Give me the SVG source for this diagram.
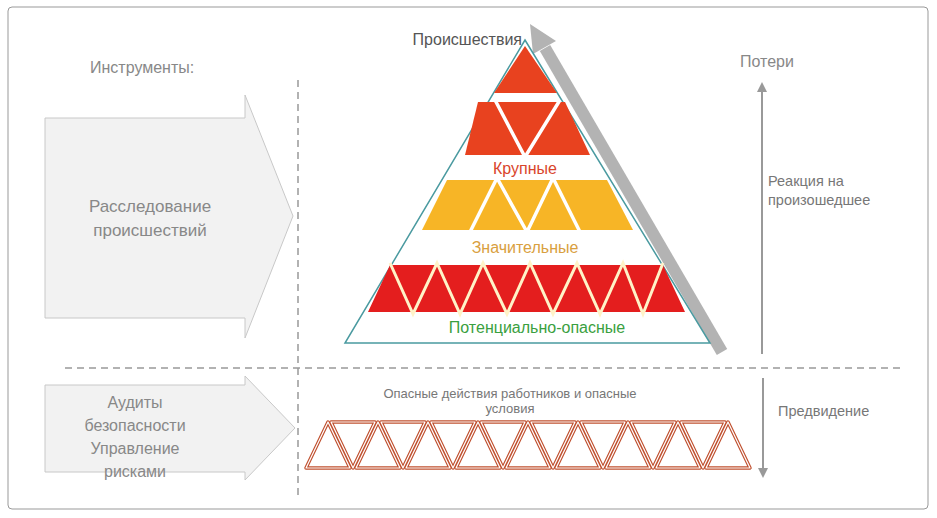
<svg xmlns="http://www.w3.org/2000/svg" width="937" height="518" viewBox="0 0 937 518">
<defs>
<marker id="ah" markerWidth="10" markerHeight="10" refX="8" refY="5" orient="auto" markerUnits="userSpaceOnUse"><path d="M0,0 L10,5 L0,10 z" fill="#999"/></marker>
</defs>
<style>
text{font-family:"Liberation Sans",Arial,sans-serif}
.g{fill:#888;font-size:16px}
.dash{stroke:#999;stroke-width:1.5;stroke-dasharray:7,5;fill:none}
.bigarrow{fill:#f2f2f2;stroke:#c8c8c8;stroke-width:1}
.zz{fill:none;stroke:#fff;stroke-width:3.5}
.bt{fill:#fff;stroke:#c0502f;stroke-width:3.5;stroke-linejoin:round}
.bti{fill:none;stroke:#fff;stroke-width:1.2;stroke-linejoin:round}
</style>
<rect x="0" y="0" width="937" height="518" fill="#fff"/>
<rect x="8" y="7" width="920" height="502" rx="4" fill="none" stroke="#999" stroke-width="1"/>
<g id="tools">
<text x="90" y="73" class="g">Инструменты:</text>
</g>
<g id="investigation">
<polygon class="bigarrow" points="45,118 245,118 245,95 293,216 245,338 245,318 45,318"/>
<text x="150" y="212" class="g" text-anchor="middle" style="font-size:17px">Расследование</text>
<text x="150" y="236" class="g" text-anchor="middle" style="font-size:17px">происшествий</text>
</g>
<g id="audits">
<polygon class="bigarrow" points="45,385 245,385 245,376 295,428 245,480 245,472 45,472"/>
<text x="135" y="408" class="g" text-anchor="middle">Аудиты</text>
<text x="135" y="431" class="g" text-anchor="middle">безопасности</text>
<text x="135" y="454" class="g" text-anchor="middle">Управление</text>
<text x="135" y="477" class="g" text-anchor="middle">рисками</text>
</g>
<g id="connectors">
<line class="dash" x1="298" y1="80" x2="298" y2="497"/>
<line class="dash" x1="65" y1="368" x2="905" y2="368"/>
<line x1="762" y1="354" x2="762" y2="84" stroke="#999" stroke-width="2" marker-end="url(#ah)"/>
<line x1="763" y1="378" x2="763" y2="476" stroke="#999" stroke-width="2" marker-end="url(#ah)"/>
<line x1="722" y1="352" x2="545" y2="48" stroke="#b3b3b3" stroke-width="12"/>
<polygon points="556,41 533,54 530,24" fill="#b3b3b3"/>
</g>
<g id="pyramid">
<polygon points="525,40 710,343 345,343" fill="#fff" stroke="#4a9aa0" stroke-width="1.5"/>
<polygon points="525,46 557,93 494,93" fill="#e8421f"/>
<polygon points="478,102 565,102 590,155 465,155" fill="#e8421f"/>
<polyline class="zz" points="495,100 525,157 560,100"/>
<polygon points="447,180 607,180 633,230 422,230" fill="#f7b526"/>
<polyline class="zz" points="470,232 497,178 527,232 553,178 580,232"/>
<polygon points="390,265 663,265 685,312 368,312" fill="#e41e1e"/>
<polyline class="zz" style="stroke:#fff3c8;stroke-width:3" points="390,263 413,314 437,263 460,314 483,263 507,314 530,263 553,314 577,263 600,314 623,263 643,314 663,263"/>
</g>
<g id="labels">
<text x="522" y="45" text-anchor="end" style="fill:#555;font-size:16px">Происшествия</text>
<text x="525" y="174" text-anchor="middle" style="fill:#d9452b;font-size:16px">Крупные</text>
<text x="525" y="253" text-anchor="middle" style="fill:#d9a040;font-size:16px">Значительные</text>
<text x="537" y="333" text-anchor="middle" style="fill:#3aa040;font-size:16px">Потенциально-опасные</text>
<text x="740" y="67" class="g">Потери</text>
<text x="768" y="186" style="fill:#777;font-size:14.5px">Реакция на</text>
<text x="768" y="205" style="fill:#777;font-size:14.5px">произошедшее</text>
<text x="778" y="416" style="fill:#777;font-size:14.5px">Предвидение</text>
<text x="510" y="398" text-anchor="middle" style="fill:#777;font-size:13px">Опасные действия работников и опасные</text>
<text x="510" y="413" text-anchor="middle" style="fill:#777;font-size:13px">условия</text>
</g>
<g id="hazards">
<g class="bt">
<polygon points="306,468 328,422 350,468"/><polygon points="331,422 375,422 353,468"/>
<polygon points="356,468 378,422 400,468"/><polygon points="381,422 425,422 403,468"/>
<polygon points="406,468 428,422 450,468"/><polygon points="431,422 475,422 453,468"/>
<polygon points="456,468 478,422 500,468"/><polygon points="481,422 525,422 503,468"/>
<polygon points="506,468 528,422 550,468"/><polygon points="531,422 575,422 553,468"/>
<polygon points="556,468 578,422 600,468"/><polygon points="581,422 625,422 603,468"/>
<polygon points="606,468 628,422 650,468"/><polygon points="631,422 675,422 653,468"/>
<polygon points="656,468 678,422 700,468"/><polygon points="681,422 725,422 703,468"/>
<polygon points="706,468 728,422 750,468"/>
</g>
<g class="bti">
<polygon points="306,468 328,422 350,468"/><polygon points="331,422 375,422 353,468"/>
<polygon points="356,468 378,422 400,468"/><polygon points="381,422 425,422 403,468"/>
<polygon points="406,468 428,422 450,468"/><polygon points="431,422 475,422 453,468"/>
<polygon points="456,468 478,422 500,468"/><polygon points="481,422 525,422 503,468"/>
<polygon points="506,468 528,422 550,468"/><polygon points="531,422 575,422 553,468"/>
<polygon points="556,468 578,422 600,468"/><polygon points="581,422 625,422 603,468"/>
<polygon points="606,468 628,422 650,468"/><polygon points="631,422 675,422 653,468"/>
<polygon points="656,468 678,422 700,468"/><polygon points="681,422 725,422 703,468"/>
<polygon points="706,468 728,422 750,468"/>
</g>
</g>
</svg>
